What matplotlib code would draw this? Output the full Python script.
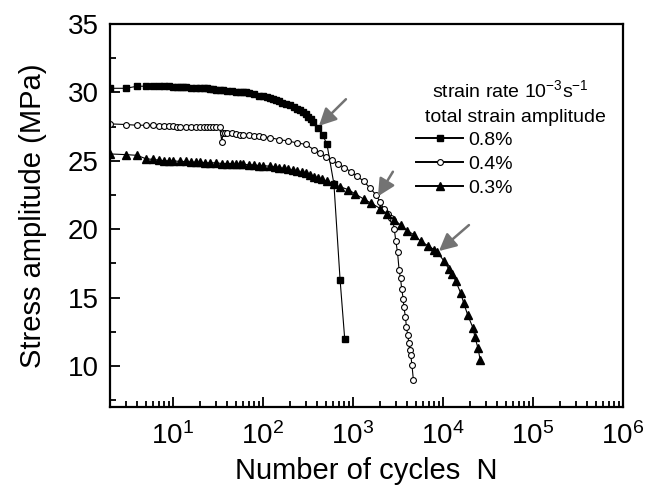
import numpy as np
import matplotlib
matplotlib.use("Agg")
import matplotlib.pyplot as plt
from matplotlib.ticker import LogLocator, MultipleLocator, NullFormatter

plt.rcParams["font.family"] = ["Liberation Sans", "DejaVu Sans"]
plt.rcParams["mathtext.fontset"] = "custom"
plt.rcParams["mathtext.rm"] = "Liberation Sans"
plt.rcParams["mathtext.it"] = "Liberation Sans:italic"

# 0.8 % total strain amplitude (filled squares)
n_08 = [2, 3, 4, 5, 6, 7, 8, 9, 10, 11, 12, 13, 14, 16, 18, 20, 22, 24, 26, 28,
        30, 33, 36, 40, 45, 50, 55, 60, 65, 70, 80, 90, 100, 110, 120, 130, 140,
        150, 165, 180, 200, 220, 240, 260, 280, 300, 320, 340, 360, 410, 460,
        515, 615, 720, 810]
s_08 = [30.3, 30.3, 30.45, 30.45, 30.5, 30.5, 30.5, 30.45, 30.4, 30.4, 30.4,
        30.4, 30.4, 30.35, 30.35, 30.3, 30.3, 30.3, 30.25, 30.25, 30.2, 30.2,
        30.15, 30.1, 30.1, 30.05, 30.05, 30.0, 30.0, 29.95, 29.85, 29.75, 29.7,
        29.65, 29.6, 29.5, 29.45, 29.35, 29.25, 29.15, 29.05, 28.95, 28.8,
        28.7, 28.55, 28.4, 28.2, 28.05, 27.85, 27.4, 26.9, 26.2, 23.3, 16.3,
        12.0]

# 0.4 % total strain amplitude (open circles)
n_04 = [2, 3, 4, 5, 6, 7, 8, 9, 10, 11, 12, 14, 16, 18, 20, 22, 24, 26, 28, 30,
        33, 35, 36, 38, 40, 45, 50, 55, 60, 70, 80, 90, 100, 120, 150, 190,
        240, 300, 370, 430, 500, 580, 680, 800, 955, 1100, 1320, 1550, 1810,
        2000, 2200, 2450, 2640, 2770, 2880, 3000, 3130, 3260, 3380, 3480, 3620,
        3680, 3830, 3930, 4070, 4180, 4280, 4390, 4530, 4690]
s_04 = [27.7, 27.65, 27.6, 27.6, 27.6, 27.55, 27.55, 27.55, 27.55, 27.5, 27.5,
        27.5, 27.5, 27.5, 27.5, 27.5, 27.5, 27.5, 27.5, 27.5, 27.5, 26.4,
        27.05, 27.0, 27.0, 27.0, 26.95, 26.9, 26.9, 26.85, 26.8, 26.8, 26.75,
        26.7, 26.55, 26.45, 26.3, 26.2, 25.8, 25.6, 25.3, 25.05, 24.8, 24.5,
        24.2, 23.9, 23.5, 23.0, 22.5, 22.0, 21.5, 21.1, 20.8, 20.7, 20.0, 19.1,
        18.3, 17.0, 16.4, 15.65, 14.9, 14.3, 13.6, 12.85, 12.25, 11.65, 11.15,
        10.8, 10.05, 9.0]

# 0.3 % total strain amplitude (filled triangles)
n_03 = [2, 3, 4, 5, 6, 7, 8, 9, 10, 12, 14, 16, 18, 20, 23, 26, 30, 35, 40, 45,
        50, 55, 60, 70, 80, 90, 100, 120, 135, 150, 170, 190, 215, 240, 270,
        300, 335, 370, 410, 450, 520, 614, 720, 880, 1050, 1320, 1600, 2020,
        2400, 2850, 3400, 4000, 4750, 5700, 6800, 8000, 8700, 10200, 11600,
        12700, 13900, 15800, 17000, 18900, 21500, 22700, 24500, 26000]
s_03 = [25.5, 25.45, 25.4, 25.15, 25.1, 25.05, 25.0, 25.0, 25.0, 24.95, 24.95,
        24.9, 24.9, 24.9, 24.85, 24.85, 24.85, 24.8, 24.8, 24.8, 24.75, 24.75,
        24.75, 24.7, 24.7, 24.65, 24.65, 24.6, 24.55, 24.5, 24.45, 24.4, 24.3,
        24.25, 24.15, 24.1, 23.95, 23.85, 23.75, 23.65, 23.5, 23.3, 23.1, 22.9,
        22.6, 22.2, 21.9, 21.5, 21.1, 20.7, 20.3, 19.9, 19.6, 19.1, 18.8, 18.5,
        18.3, 17.7, 17.1, 16.7, 16.2, 15.3, 14.6, 13.7, 12.8, 12.1, 11.3, 10.4]

labels = ["0.8%", "0.4%", "0.3%"]

# arrows: (tail N, tail S) -> (tip N, tip S)
arrows = [((836, 29.5), (419, 27.55)),
          ((2780, 24.2), (1896, 22.4)),
          ((19450, 20.3), (9030, 18.4))]

fig = plt.figure(figsize=(6.57, 4.86), dpi=100)
ax = fig.add_axes([0.1674, 0.1626, 0.7808, 0.788])

l1, = ax.plot(n_08, s_08, "-s", color="black", lw=0.8, ms=4.5, label=labels[0])
l2, = ax.plot(n_04, s_04, "-o", color="black", lw=0.8, ms=4.2, mfc="white",
              mew=0.8, label=labels[1])
l3, = ax.plot(n_03, s_03, "-^", color="black", lw=0.8, ms=5.5, label=labels[2])

for (tail, tip) in arrows:
    ax.annotate("", xy=tip, xytext=tail,
                arrowprops=dict(arrowstyle="-|>", color="0.45", lw=1.8,
                                mutation_scale=26, shrinkA=0, shrinkB=0))

ax.set_xscale("log")
ax.set_xlim(2, 1e6)
ax.set_ylim(7, 35)
ax.xaxis.set_major_locator(LogLocator(base=10, numticks=10))
ax.xaxis.set_minor_locator(LogLocator(base=10, subs=np.arange(2, 10), numticks=20))
ax.xaxis.set_minor_formatter(NullFormatter())
ax.yaxis.set_major_locator(MultipleLocator(5))
ax.yaxis.set_minor_locator(MultipleLocator(2.5))
ax.set_yticks([10, 15, 20, 25, 30, 35])

ax.tick_params(which="both", direction="in", top=False, right=False, width=1.3)
ax.tick_params(which="major", length=7, labelsize=20)
ax.tick_params(which="minor", length=4)
ax.tick_params(axis="x", which="major", pad=11)
ax.tick_params(axis="y", which="major", pad=8)
for sp in ax.spines.values():
    sp.set_linewidth(1.6)

ax.set_xlabel("Number of cycles  N", fontsize=21, labelpad=5)
ax.set_ylabel("Stress amplitude (MPa)", fontsize=21, labelpad=15)

ax.text(0.628, 0.828, "strain rate 10$^{-3}$s$^{-1}$", transform=ax.transAxes,
        fontsize=14, ha="left", va="center")
ax.text(0.614, 0.756, "total strain amplitude", transform=ax.transAxes,
        fontsize=14, ha="left", va="center")

leg = ax.legend(handles=[l1, l2, l3], loc="upper left",
                bbox_to_anchor=(0.597, 0.72), frameon=False, fontsize=14,
                handlelength=2.4, handletextpad=0.3, labelspacing=0.32,
                borderaxespad=0, borderpad=0, numpoints=1)
for h in leg.get_lines():
    h.set_linewidth(1.4)

fig.savefig("out.png", dpi=100)
